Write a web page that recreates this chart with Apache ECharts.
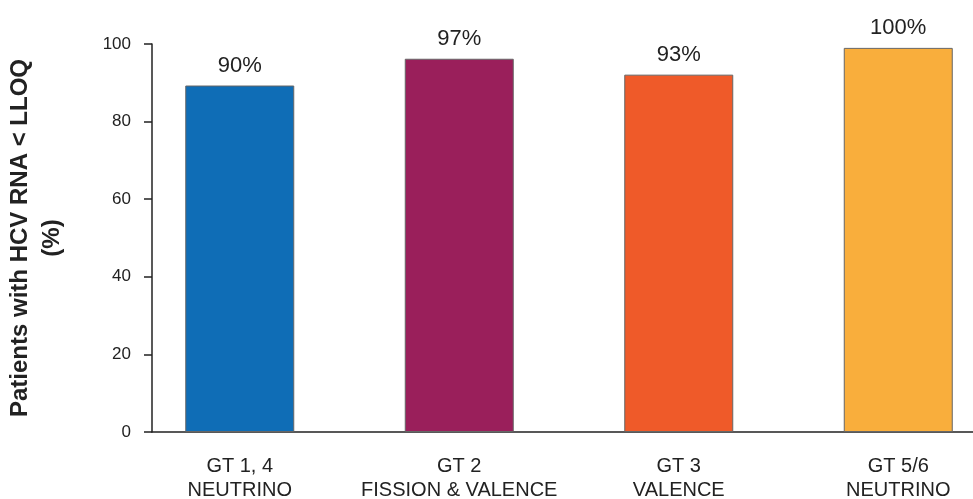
<!DOCTYPE html>
<html>
<head>
<meta charset="utf-8">
<script src="https://cdn.jsdelivr.net/npm/echarts@6/dist/echarts.min.js"></script>
<style>
  html, body { margin: 0; padding: 0; background: #fff; }
  #chart_bar { width: 973px; height: 499px; }
</style>
</head>
<body>
<div id="chart_bar"></div>
<script>
// data
var categories = ['GT 1, 4\nNEUTRINO', 'GT 2\nFISSION & VALENCE', 'GT 3\nVALENCE', 'GT 5/6\nNEUTRINO'];
var values = [89.3, 96.2, 92.1, 99.0];
var valueLabels = ['90%', '97%', '93%', '100%'];
var barColors = ['#0f6db6', '#9a1f5b', '#ef5a29', '#f9ae3c'];
var yTicks = [0, 20, 40, 60, 80, 100];

var chart = echarts.init(document.getElementById('chart_bar'));
var font = '"Liberation Sans", Arial, sans-serif';

var option = {
  animation: false,
  backgroundColor: '#fff',
  textStyle: { fontFamily: font },
  grid: [
    { left: 152, right: 0, top: 44, bottom: 67, outerBoundsMode: 'none', containLabel: false },   // axes
    { left: 130, width: 878, top: 44, bottom: 67, outerBoundsMode: 'none', containLabel: false }  // bars
  ],
  xAxis: [
    {
      gridIndex: 0, type: 'value', min: 0, max: 1,
      axisLine: { show: true, lineStyle: { color: '#222', width: 1.5 } },
      axisTick: { show: false }, axisLabel: { show: false }, splitLine: { show: false }
    },
    {
      gridIndex: 1, type: 'category', data: categories,
      axisLine: { show: false }, axisTick: { show: false },
      axisLabel: { interval: 0, color: '#222', fontSize: 20, lineHeight: 24, margin: 22, fontFamily: font }
    }
  ],
  yAxis: [
    {
      gridIndex: 0, type: 'value', min: yTicks[0], max: yTicks[yTicks.length - 1], interval: 20,
      name: 'Patients with HCV RNA < LLOQ\n(%)',
      nameLocation: 'middle', nameGap: 84, nameRotate: 90,
      nameTextStyle: { fontSize: 24, fontWeight: 'bold', color: '#222', lineHeight: 32, fontFamily: font },
      axisLine: { show: true, lineStyle: { color: '#222', width: 1.5 } },
      axisTick: { show: true, length: 8, lineStyle: { color: '#222', width: 1.5 } },
      axisLabel: { color: '#222', fontSize: 17, margin: 21, fontFamily: font },
      splitLine: { show: false }
    },
    {
      gridIndex: 1, type: 'value', min: 0, max: 100, show: false
    }
  ],
  series: [{
    type: 'bar',
    xAxisIndex: 1, yAxisIndex: 1,
    barWidth: 109,
    data: values.map(function (v, i) {
      return { value: v, itemStyle: { color: barColors[i] } };
    }),
    itemStyle: { borderColor: '#666', borderWidth: 1 },
    label: {
      show: true, position: 'top', distance: 9,
      fontSize: 22, color: '#222', fontFamily: font,
      formatter: function (p) { return valueLabels[p.dataIndex]; }
    }
  }]
};

chart.setOption(option);
</script>
</body>
</html>
